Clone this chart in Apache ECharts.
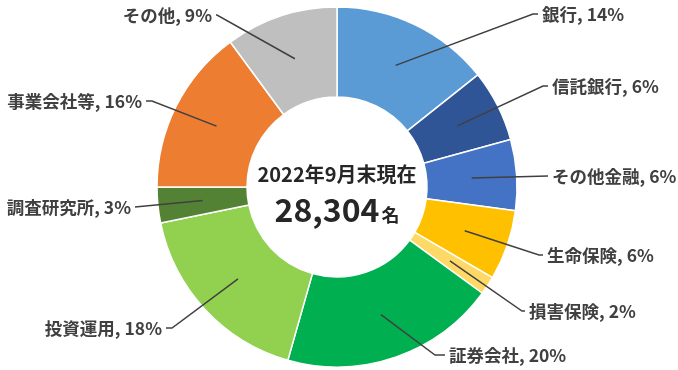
<!DOCTYPE html>
<html><head><meta charset="utf-8">
<script src="https://cdn.jsdelivr.net/npm/echarts@6/dist/echarts.min.js"></script>
<style>html,body{margin:0;padding:0;background:#fff}#c{width:678px;height:370px}</style>
</head><body><div id="c"></div>
<script>
// ---- data ----
const categories = ['銀行','信託銀行','その他金融','生命保険','損害保険','証券会社','投資運用','調査研究所','事業会社等','その他'];
const shares = [14.3, 6.45, 6.35, 6.3, 1.65, 19.35, 17.4, 3.2, 14.9, 10.1];
const pctLabels = ['14%','6%','6%','6%','2%','20%','18%','3%','16%','9%'];
const centerTitle = '2022年9月末現在';
const totalText = '28,304';
const unitText = '名';

// ---- styles / layout ----
const colors = ['#5B9BD5','#2F5597','#4472C4','#FFC000','#FFD966','#00B050','#92D050','#548235','#ED7D31','#BFBFBF'];
const FONT = '"Noto Sans CJK JP","Noto Sans",sans-serif';
const labelPlace = [
  {x:542, y:14,  align:'left',  b:9},
  {x:552, y:86,  align:'left',  b:9},
  {x:552, y:176, align:'left',  b:4},
  {x:547, y:255, align:'left',  b:8},
  {x:529, y:311, align:'left',  b:7},
  {x:449, y:355, align:'left',  b:14},
  {x:162, y:328, align:'right', b:10},
  {x:131, y:207, align:'right', b:4},
  {x:142, y:101, align:'right', b:10},
  {x:212, y:15,  align:'right', b:5}
];

const data = categories.map((n, i) => ({name: n, value: shares[i], itemStyle: {color: colors[i]}}));
const ghost = categories.map((n, i) => ({name: n, value: shares[i]}));

const chart = echarts.init(document.getElementById('c'), null, {renderer: 'canvas'});
chart.setOption({
  animation: false,
  backgroundColor: '#fff',
  series: [
    {
      type: 'pie',
      center: [337, 187],
      radius: [90, 180],
      startAngle: 90,
      clockwise: true,
      silent: true,
      z: 2,
      label: {show: false},
      labelLine: {show: false},
      itemStyle: {borderColor: '#fff', borderWidth: 1.5},
      emphasis: {disabled: true},
      data: data
    },
    {
      type: 'pie',
      center: [337, 187],
      radius: [0, 135],
      startAngle: 90,
      clockwise: true,
      silent: true,
      z: 3,
      avoidLabelOverlap: false,
      itemStyle: {color: 'rgba(0,0,0,0)', borderWidth: 0},
      emphasis: {disabled: true},
      label: {
        show: true,
        position: 'outside',
        color: '#404040',
        fontSize: 17.5,
        fontWeight: 'bold',
        fontFamily: FONT,
        formatter: p => p.name + ', ' + pctLabels[p.dataIndex]
      },
      labelLine: {show: true, length: 10, length2: 10, smooth: false, lineStyle: {color: '#404040', width: 1.5}},
      labelLayout: function (p) {
        const L = labelPlace[p.dataIndex];
        const dir = L.align === 'left' ? 1 : -1;
        const res = {x: L.x, y: L.y, align: L.align, verticalAlign: 'middle'};
        if (p.labelLinePoints && p.labelLinePoints[0]) {
          res.labelLinePoints = [p.labelLinePoints[0], [L.x - dir * L.b, L.y], [L.x - dir * 4, L.y]];
        }
        return res;
      },
      data: ghost
    }
  ],
  graphic: [
    {
      type: 'text', x: 337, y: 174, z: 10,
      style: {text: centerTitle, font: 'bold 20px ' + FONT, fill: '#262626', align: 'center', verticalAlign: 'middle'}
    },
    {
      type: 'text', x: 337, y: 210, z: 10,
      style: {
        text: '{a|' + totalText + '}{b|' + unitText + '}',
        align: 'center', verticalAlign: 'middle',
        rich: {
          a: {fontSize: 32, fontWeight: 'bold', fontFamily: FONT, fill: '#262626', verticalAlign: 'bottom'},
          b: {fontSize: 18, fontWeight: 'bold', fontFamily: FONT, fill: '#262626', verticalAlign: 'bottom', padding: [0, 0, 2, 2]}
        }
      }
    }
  ]
});
</script>
</body></html>
